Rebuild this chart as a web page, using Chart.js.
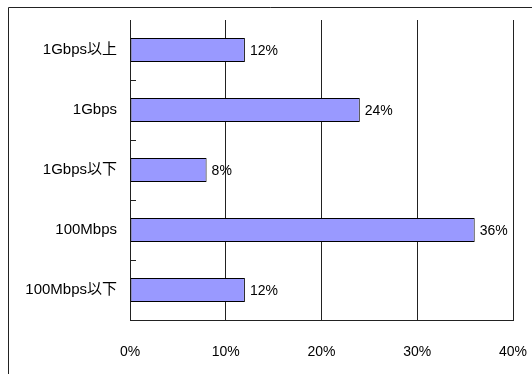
<!DOCTYPE html>
<html lang="ja">
<head>
  <meta charset="UTF-8">
  <title>回線速度</title>
  <script src="https://cdn.jsdelivr.net/npm/chart.js"></script>
  <style>
    html, body { margin: 0; padding: 0; background: #fff; }
    #wrap { width: 532px; height: 374px; position: relative; }
  </style>
</head>
<body>
  <div id="wrap"><canvas id="chart" width="532" height="374"></canvas></div>
  <script>
    const categories = ["1Gbps以上", "1Gbps", "1Gbps以下", "100Mbps", "100Mbps以下"];
    const shares = [12, 24, 8, 36, 12];
    const xTicks = [0, 10, 20, 30, 40];

    const fontFamily = "'Liberation Sans', Arial, 'Noto Sans CJK JP', sans-serif";

    // frame, inner y-axis tick marks and value labels
    const extras = {
      id: 'extras',
      afterDraw(chart) {
        const ctx = chart.ctx;
        const y = chart.scales.y;
        const x = chart.scales.x;
        ctx.save();
        ctx.strokeStyle = '#222';
        ctx.lineWidth = 1;
        ctx.beginPath();
        ctx.moveTo(8.5, 374);
        ctx.lineTo(8.5, 7.5);
        ctx.lineTo(532, 7.5);
        ctx.stroke();

        ctx.beginPath();
        for (let i = 1; i < categories.length; i++) {
          const py = Math.round((y.getPixelForValue(i - 1) + y.getPixelForValue(i)) / 2) + 0.5;
          ctx.moveTo(x.left, py);
          ctx.lineTo(x.left + 6, py);
        }
        ctx.stroke();

        ctx.fillStyle = '#000';
        ctx.font = '14px ' + fontFamily;
        ctx.textAlign = 'left';
        ctx.textBaseline = 'middle';
        const meta = chart.getDatasetMeta(0);
        meta.data.forEach((bar, i) => {
          ctx.fillText(shares[i] + '%', bar.x + 5, bar.y + 1);
        });
        ctx.restore();
      }
    };

    new Chart(document.getElementById('chart'), {
      type: 'bar',
      data: {
        labels: categories,
        datasets: [{
          data: shares,
          backgroundColor: '#9999ff',
          borderColor: '#000',
          borderWidth: 1,
          borderSkipped: false,
          categoryPercentage: 1,
          barPercentage: 0.4
        }]
      },
      options: {
        indexAxis: 'y',
        responsive: false,
        animation: false,
        events: [],
        layout: { padding: { left: 0, top: 20, right: 19, bottom: 0 } },
        plugins: { legend: { display: false }, tooltip: { enabled: false } },
        scales: {
          x: {
            min: 0,
            max: 40,
            afterBuildTicks(scale) {
              scale.ticks = xTicks.map(v => ({ value: v }));
            },
            afterFit(scale) {
              scale.height = 54;
              scale.paddingLeft = 0;
              scale.paddingRight = 0;
            },
            grid: { color: '#222', lineWidth: 1, drawTicks: false },
            border: { color: '#222', width: 1 },
            ticks: {
              padding: 24,
              color: '#000',
              font: { family: fontFamily, size: 14 },
              callback: v => v + '%'
            }
          },
          y: {
            afterFit(scale) {
              scale.width = 130;
              scale.paddingTop = 0;
              scale.paddingBottom = 0;
            },
            grid: { display: false, drawTicks: false },
            border: { color: '#222', width: 1 },
            ticks: {
              padding: 13,
              color: '#000',
              font: { family: fontFamily, size: 15 }
            }
          }
        }
      },
      plugins: [extras]
    });
  </script>
</body>
</html>
